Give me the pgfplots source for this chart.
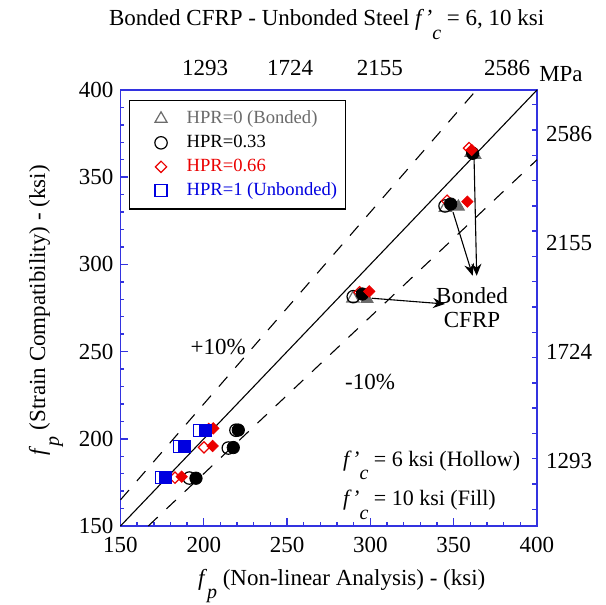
\documentclass[border=0pt]{standalone}
\usepackage{fontspec}
\setmainfont{Liberation Serif}
\usepackage{pgfplots}
\pgfplotsset{compat=1.18}
\usetikzlibrary{arrows.meta}

\definecolor{frameblue}{rgb}{0.2,0.2,0.88}
\definecolor{hpgray}{rgb}{0.42,0.42,0.42}
\definecolor{hpred}{rgb}{0.92,0,0}
\definecolor{hpblue}{rgb}{0,0,0.88}

\newcommand{\lab}{\fontsize{11.5}{13.8}\selectfont}
\newcommand{\fp}{\textit{f}\raisebox{-0.6em}{\fontsize{10}{10}\selectfont\textit{p}}}
\newcommand{\fc}{\textit{f}\kern0.2pt\textit{'}\raisebox{-0.6em}{\fontsize{10}{10}\selectfont\textit{c}}}

\begin{document}
\begin{tikzpicture}
\useasboundingbox (-60.25pt,-39.5pt) rectangle (242.25pt,263pt);

% MPa scale on top and right
\begin{axis}[
    scale only axis, width=208.25pt, height=218pt,
    xmin=1034.25, xmax=2758, ymin=1034.25, ymax=2758,
    axis line style={draw=none},
    xtick=\empty, minor xtick={1100,1200,...,2700},
    ytick={1293,1724,2155,2586}, yticklabels={1293,1724,2155,2586},
    minor ytick={1100,1200,...,2700},
    xtick pos=top, ytick pos=right,
    tick align=inside,
    major tick length=0pt, minor tick length=2.5pt,
    every tick/.style={frameblue, line width=0.7pt},
    scaled ticks=false,
    yticklabel style={font=\lab, xshift=1pt},
]
\end{axis}

\begin{axis}[
    scale only axis, width=208.25pt, height=218pt,
    xmin=150, xmax=400, ymin=150, ymax=400,
    xtick={150,200,...,400}, ytick={150,200,...,400},
    minor x tick num=4, minor y tick num=4,
    xtick pos=bottom, ytick pos=left,
    tick align=inside,
    major tick length=4pt, minor tick length=2pt,
    every tick/.style={frameblue, line width=0.7pt},
    axis line style={frameblue, line width=0.8pt},
    tick label style={font=\lab},
    xticklabel style={yshift=-2pt},
    /pgf/number format/assume math mode=true,
    clip=false,
    legend cell align=left,
    legend image code/.code={%
        \path (0pt,0pt) (24pt,0pt);
        \draw[#1] plot coordinates {(13.5pt,0pt)};},
    legend style={at={(0.02,0.977)}, anchor=north west, draw=black,
        line width=0.6pt, font=\fontsize{9.3}{11}\selectfont,
        inner xsep=2pt, inner ysep=3.5pt, row sep=0.8pt,
        nodes={text height=7pt, text depth=2.2pt, inner ysep=1pt, inner xsep=2pt}},
]
% reference lines
\addplot[black, line width=0.55pt, forget plot] coordinates {(150,150) (400,400)};
\addplot[black, line width=0.55pt, dash pattern=on 6.5pt off 6pt, forget plot]
    coordinates {(150,165) (363.64,400)};
\addplot[black, line width=0.55pt, dash pattern=on 6.5pt off 6pt, forget plot]
    coordinates {(166.67,150) (400,360)};

% f'c = 6 ksi (hollow)
\addplot[only marks, mark=triangle, mark size=3.5pt, hpgray, mark options={line width=0.6pt, fill=white}]
    coordinates {(289.5,280.5) (345,332.5) (360.5,364)};
\addlegendentry{\textcolor{hpgray}{HPR=0 (Bonded)}}
\addplot[only marks, mark=o, mark size=3.1pt, black, mark options={line width=0.6pt, fill=white}]
    coordinates {(289.7,281.5) (344.8,333.5) (219.3,204.9) (214.7,194.7) (191.3,177.5)};
\addlegendentry{HPR=0.33}
\addplot[only marks, mark=square, mark size=2pt, hpred, mark options={rotate=45, line width=0.6pt, fill=white}]
    coordinates {(293.5,284) (346,336.5) (359.2,366.7) (203,205.5) (200.1,195.1) (182.7,177.7)};
\addlegendentry{\textcolor{hpred}{HPR=0.66}}
\addplot[only marks, mark=square, mark size=3pt, hpblue, mark options={line width=0.6pt, fill=white}]
    coordinates {(197.3,204.7) (185.3,195.5) (174.7,177.9)};
\addlegendentry{\textcolor{hpblue}{HPR=1 (Unbonded)}}

% f'c = 10 ksi (filled)
\addplot[only marks, mark=triangle*, mark size=3.5pt, hpgray, forget plot]
    coordinates {(298,280.2) (352.8,333.1) (362.8,362.7)};
\addplot[only marks, mark=*, mark size=3.1pt, black, forget plot]
    coordinates {(295.2,283) (348.2,334.6) (361.4,363.7) (220.7,205) (217.7,195) (195.3,177.4)};
\addplot[only marks, mark=square*, mark size=2pt, hpred, mark options={rotate=45}, forget plot]
    coordinates {(299.3,284.5) (358.2,336) (360.8,365.6) (205.7,206) (205.3,195.9) (186.7,178.3)};
\addplot[only marks, mark=square*, mark size=3pt, hpblue, forget plot]
    coordinates {(200.7,204.7) (188.1,195.5) (176.7,177.9)};

% arrows
\draw[black, line width=0.55pt, -{Stealth[length=6pt, width=5pt, inset=2pt]}]
    (axis cs:300.8,280.6) -- (axis cs:344.8,277.3);
\draw[black, line width=0.55pt, -{Stealth[length=6pt, width=5pt, inset=2pt]}]
    (axis cs:349.6,330) -- (axis cs:361.4,293.5);
\draw[black, line width=0.55pt, -{Stealth[length=6pt, width=5pt, inset=2pt]}]
    (axis cs:362.2,361.8) -- (axis cs:363.8,293.5);

% annotations
\node[font=\lab] at (axis cs:208.6,252.6) {+10\%};
\node[font=\lab] at (axis cs:299.8,232.6) {-10\%};
\node[font={\fontsize{11.5}{12}\selectfont}, align=center] at (axis cs:361,275) {Bonded\\CFRP};
\node[font=\fontsize{11}{13}\selectfont, anchor=base west, inner sep=0pt] at (axis cs:283.4,184) {\fc\ = 6 ksi (Hollow)};
\node[font=\fontsize{11}{13}\selectfont, anchor=base west, inner sep=0pt] at (axis cs:283.4,161.5) {\fc\ = 10 ksi (Fill)};

% top MPa labels and title
\node[font=\lab] at (rel axis cs:0.203,1) [yshift=11pt] {1293};
\node[font=\lab] at (rel axis cs:0.407,1) [yshift=11pt] {1724};
\node[font=\lab] at (rel axis cs:0.623,1) [yshift=11pt] {2155};
\node[font=\lab] at (rel axis cs:0.928,1) [yshift=11pt] {2586};
\node[font=\lab] at (rel axis cs:1.0576,1) [yshift=8pt] {MPa};
\node[font=\lab, anchor=base] at (rel axis cs:0.495,1) [yshift=32pt]
    {Bonded CFRP - Unbonded Steel \fc\ = 6, 10 ksi};

% axis labels
\node[font=\lab, anchor=base] at (rel axis cs:0.531,0) [yshift=-29.5pt]
    {\fp\ (Non-linear Analysis) - (ksi)};
\node[font=\lab, anchor=base, rotate=90] at (rel axis cs:-0.181,0.495)
    {\fp\ (Strain Compatibility) - (ksi)};
\end{axis}
\end{tikzpicture}
\end{document}
